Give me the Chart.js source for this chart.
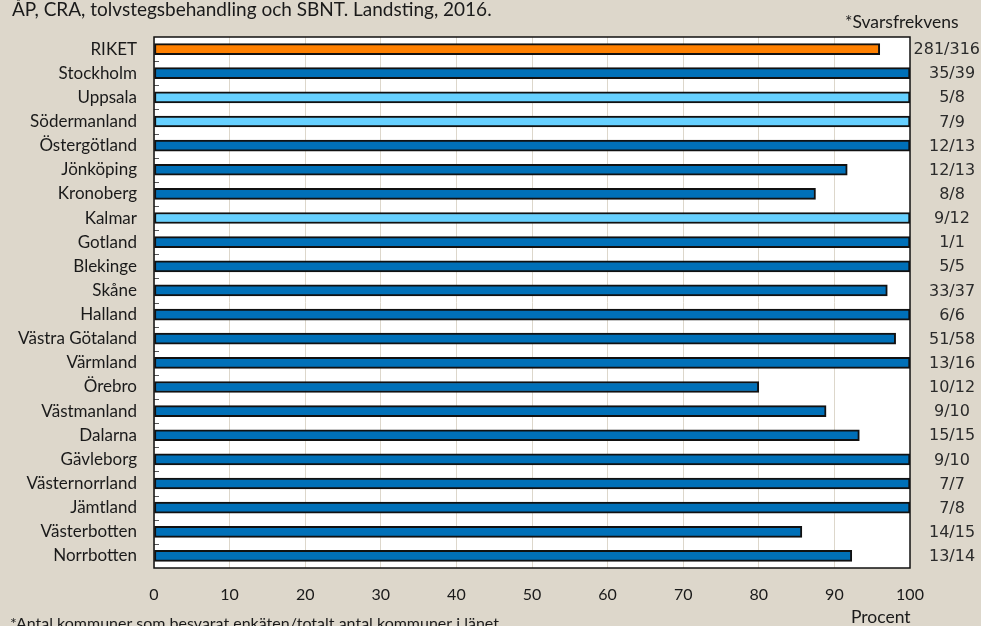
<!DOCTYPE html>
<html>
<head>
<meta charset="utf-8">
<script src="https://cdn.jsdelivr.net/npm/chart.js@4"></script>
<style>
  html, body { margin: 0; padding: 0; background: #ddd7cb; }
  #wrap { width: 981px; height: 626px; }
</style>
</head>
<body>
<div id="wrap"><canvas id="chart" width="981" height="626"></canvas></div>
<script>
// Landsting (regions) and share in percent
const regions = ['RIKET', 'Stockholm', 'Uppsala', 'Södermanland', 'Östergötland', 'Jönköping',
  'Kronoberg', 'Kalmar', 'Gotland', 'Blekinge', 'Skåne', 'Halland', 'Västra Götaland',
  'Värmland', 'Örebro', 'Västmanland', 'Dalarna', 'Gävleborg', 'Västernorrland',
  'Jämtland', 'Västerbotten', 'Norrbotten'];
const percent = [96.0, 100, 100, 100, 100, 91.7, 87.5, 100, 100, 100, 97.0, 100, 98.1,
  100, 80.0, 88.9, 93.3, 100, 100, 100, 85.7, 92.3];
// *Svarsfrekvens: answered / total municipalities
const responseRate = ['281/316', '35/39', '5/8', '7/9', '12/13', '12/13', '8/8', '9/12', '1/1',
  '5/5', '33/37', '6/6', '51/58', '13/16', '10/12', '9/10', '15/15', '9/10', '7/7', '7/8',
  '14/15', '13/14'];
const lightRegions = ['Uppsala', 'Södermanland', 'Kalmar'];
const xTicks = [0, 10, 20, 30, 40, 50, 60, 70, 80, 90, 100];

const barColors = regions.map(r => r === 'RIKET' ? '#ff8000' : (lightRegions.includes(r) ? '#66d0ff' : '#0070b8'));

const frame = {
  id: 'frame',
  beforeDraw(chart) {
    const { ctx, chartArea: a } = chart;
    ctx.save();
    ctx.fillStyle = '#ddd7cb';
    ctx.fillRect(0, 0, chart.width, chart.height);
    ctx.fillStyle = '#ffffff';
    ctx.fillRect(a.left, a.top, a.right - a.left, a.bottom - a.top);
    ctx.restore();
  },
  afterDatasetsDraw(chart) {
    const { ctx, chartArea: a, scales } = chart;
    ctx.save();
    // small category separators on the left axis
    ctx.strokeStyle = '#555';
    ctx.lineWidth = 1;
    const step = (a.bottom - a.top) / regions.length;
    for (let i = 1; i < regions.length; i++) {
      const y = Math.round(a.top + i * step) + 0.5;
      ctx.beginPath();
      ctx.moveTo(a.left, y);
      ctx.lineTo(a.left + 5, y);
      ctx.stroke();
    }
    ctx.strokeStyle = '#111';
    ctx.lineWidth = 1.5;
    ctx.strokeRect(a.left, a.top, a.right - a.left, a.bottom - a.top);

    // texts
    ctx.fillStyle = '#1a1a1a';
    ctx.textBaseline = 'middle';
    ctx.textAlign = 'left';
    ctx.font = '19px Lato';
    ctx.fillText('ÅP, CRA, tolvstegsbehandling och SBNT. Landsting, 2016.', 12, 10);
    ctx.font = '17.5px Lato';
    ctx.fillText('*Svarsfrekvens', 845, 22);
    ctx.fillText('Procent', 851, 617);
    ctx.font = '16px Lato';
    ctx.fillText('*Antal kommuner som besvarat enkäten/totalt antal kommuner i länet', 10, 624);

    ctx.font = '16px "DejaVu Sans"';
    ctx.fillStyle = '#2b2b2b';
    ctx.textAlign = 'center';
    responseRate.forEach((t, i) => {
      const y = scales.y.getPixelForValue(i);
      const w = ctx.measureText(t).width;
      let cx = 952;
      if (cx + w / 2 > 980) cx = 980 - w / 2;
      ctx.fillText(t, cx, y + 1);
    });
    ctx.restore();
  }
};

new Chart(document.getElementById('chart'), {
  type: 'bar',
  data: {
    labels: regions,
    datasets: [{
      data: percent,
      backgroundColor: barColors,
      borderColor: '#111',
      borderWidth: 2,
      borderSkipped: false,
      barThickness: 11
    }]
  },
  options: {
    indexAxis: 'y',
    responsive: false,
    animation: false,
    devicePixelRatio: 1,
    layout: { padding: { left: 0, right: 71, top: 37, bottom: 0 } },
    plugins: { legend: { display: false }, tooltip: { enabled: false } },
    scales: {
      x: {
        min: 0,
        max: 100,
        afterBuildTicks(scale) { scale.ticks = xTicks.map(v => ({ value: v })); },
        afterFit(scale) { scale.height = 58; },
        grid: { color: '#ddd7cb', drawTicks: false },
        border: { display: false },
        ticks: { color: '#1a1a1a', font: { family: 'Lato', size: 16 }, padding: 17 }
      },
      y: {
        afterFit(scale) { scale.width = 154; },
        grid: { display: false, drawTicks: false },
        border: { display: false },
        ticks: { color: '#1a1a1a', font: { family: 'Lato', size: 17 }, padding: 17, autoSkip: false }
      }
    }
  },
  plugins: [frame]
});
</script>
</body>
</html>
